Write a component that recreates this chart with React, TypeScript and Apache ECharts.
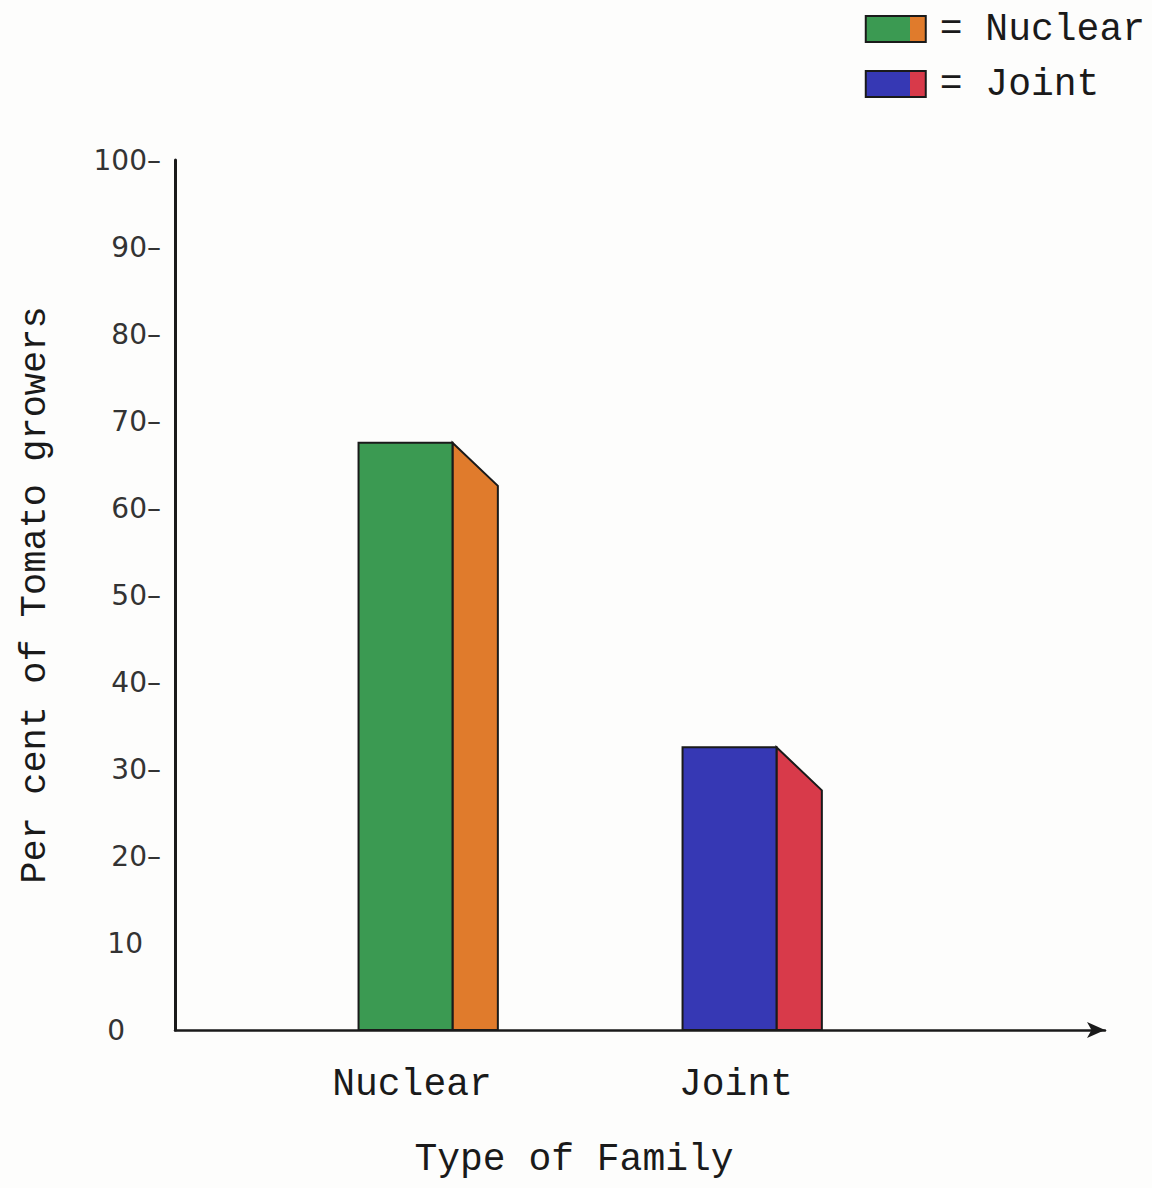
import React, { useEffect, useRef } from "react";
import * as echarts from "echarts";

const categories = ["Nuclear", "Joint"];
const values = [67.5, 32.5];
const yTicks = [0, 10, 20, 30, 40, 50, 60, 70, 80, 90, 100];
const frontColors = ["#3b9a52", "#3638b4"];
const sideColors = ["#e07b2c", "#d83a4a"];

const MONO = "'Liberation Mono', 'Courier New', monospace";
const SANS = "'DejaVu Sans', sans-serif";

function twoTone(a: string, b: string) {
  return {
    type: "linear",
    x: 0,
    y: 0,
    x2: 1,
    y2: 0,
    colorStops: [
      { offset: 0, color: a },
      { offset: 0.74, color: a },
      { offset: 0.74, color: b },
      { offset: 1, color: b },
    ],
  };
}

export default function App() {
  const ref = useRef<HTMLDivElement>(null);
  useEffect(() => {
    if (!ref.current) return;
    const chart = echarts.init(ref.current, null, { renderer: "svg" });
    const series = categories.map((name, i) => ({
      type: "custom",
      name,
      xAxisIndex: 1,
      yAxisIndex: 1,
      itemStyle: { color: twoTone(frontColors[i], sideColors[i]) },
      encode: { x: 0, y: 1 },
      data: [[i, values[i]]],
      renderItem: (params: any, api: any) => {
        const x = api.value(0);
        const v = api.value(1);
        const top = api.coord([x, v]);
        const base = api.coord([x, 0]);
        const bw = api.size([1, 0])[0];
        const c = top[0];
        const l = c - 0.165 * bw;
        const m = c + 0.125 * bw;
        const r = c + 0.265 * bw;
        const drop = 0.133 * bw;
        return {
          type: "group",
          children: [
            {
              type: "polygon",
              shape: {
                points: [
                  [m, top[1]],
                  [r, top[1] + drop],
                  [r, base[1]],
                  [m, base[1]],
                ],
              },
              style: { fill: sideColors[i], stroke: "#1a1a1a", lineWidth: 2 },
            },
            {
              type: "rect",
              shape: { x: l, y: top[1], width: m - l, height: base[1] - top[1] },
              style: { fill: frontColors[i], stroke: "#1a1a1a", lineWidth: 2 },
            },
          ],
        };
      },
    }));

    chart.setOption({
      animation: false,
      backgroundColor: "#fdfdfc",
      legend: {
        orient: "vertical",
        right: 2,
        top: 5,
        itemWidth: 60,
        itemHeight: 26,
        itemGap: 17,
        icon: "rect",
        formatter: (n: string) => "= " + n,
        textStyle: { fontFamily: MONO, fontSize: 38, color: "#1a1a1a", padding: [0, 0, 0, 9] },
        data: categories.map((name, i) => ({
          name,
          itemStyle: {
            color: twoTone(frontColors[i], sideColors[i]),
            borderColor: "#1a1a1a",
            borderWidth: 2,
          },
        })),
      },
      grid: [
        { left: 175, right: 47, top: 160, bottom: 158 },
        { left: 250, right: 254, top: 160, bottom: 158 },
      ],
      xAxis: [
        {
          type: "value",
          gridIndex: 0,
          min: 0,
          max: 1,
          axisLabel: { show: false },
          axisTick: { show: false },
          splitLine: { show: false },
          axisLine: {
            show: true,
            symbol: ["none", "arrow"],
            symbolSize: [12, 18],
            lineStyle: { color: "#1a1a1a", width: 2.5 },
          },
        },
        {
          type: "category",
          gridIndex: 1,
          data: categories,
          axisLine: { show: false },
          axisTick: { show: false },
          axisLabel: { fontFamily: MONO, fontSize: 38, color: "#1a1a1a", margin: 35 },
          name: "Type of Family",
          nameLocation: "middle",
          nameGap: 110,
          nameTextStyle: { fontFamily: MONO, fontSize: 38, color: "#1a1a1a" },
        },
      ],
      yAxis: [
        {
          type: "value",
          gridIndex: 0,
          min: 0,
          max: 100,
          interval: 10,
          splitLine: { show: false },
          axisTick: { show: false },
          axisLine: { show: true, lineStyle: { color: "#1a1a1a", width: 3 } },
          axisLabel: {
            margin: 14,
            formatter: (v: number) => {
              if (!yTicks.includes(v)) return "";
              if (v === 0) return "{z|0}";
              if (v === 10) return "{t|10}";
              return "{n|" + v + "–}";
            },
            rich: {
              n: { fontFamily: SANS, fontSize: 28, color: "#333" },
              t: { fontFamily: SANS, fontSize: 28, color: "#333", padding: [0, 18, 0, 0] },
              z: { fontFamily: SANS, fontSize: 28, color: "#333", padding: [0, 36, 0, 0] },
            },
          },
          name: "Per cent of Tomato growers",
          nameLocation: "middle",
          nameGap: 122,
          nameTextStyle: { fontFamily: MONO, fontSize: 37, color: "#1a1a1a" },
        },
        {
          type: "value",
          gridIndex: 1,
          min: 0,
          max: 100,
          show: false,
          splitLine: { show: false },
        },
      ],
      series,
    });
    return () => chart.dispose();
  }, []);
  return (
    <div
      ref={ref}
      style={{ position: "absolute", left: 0, top: 0, width: 1152, height: 1188 }}
    />
  );
}
